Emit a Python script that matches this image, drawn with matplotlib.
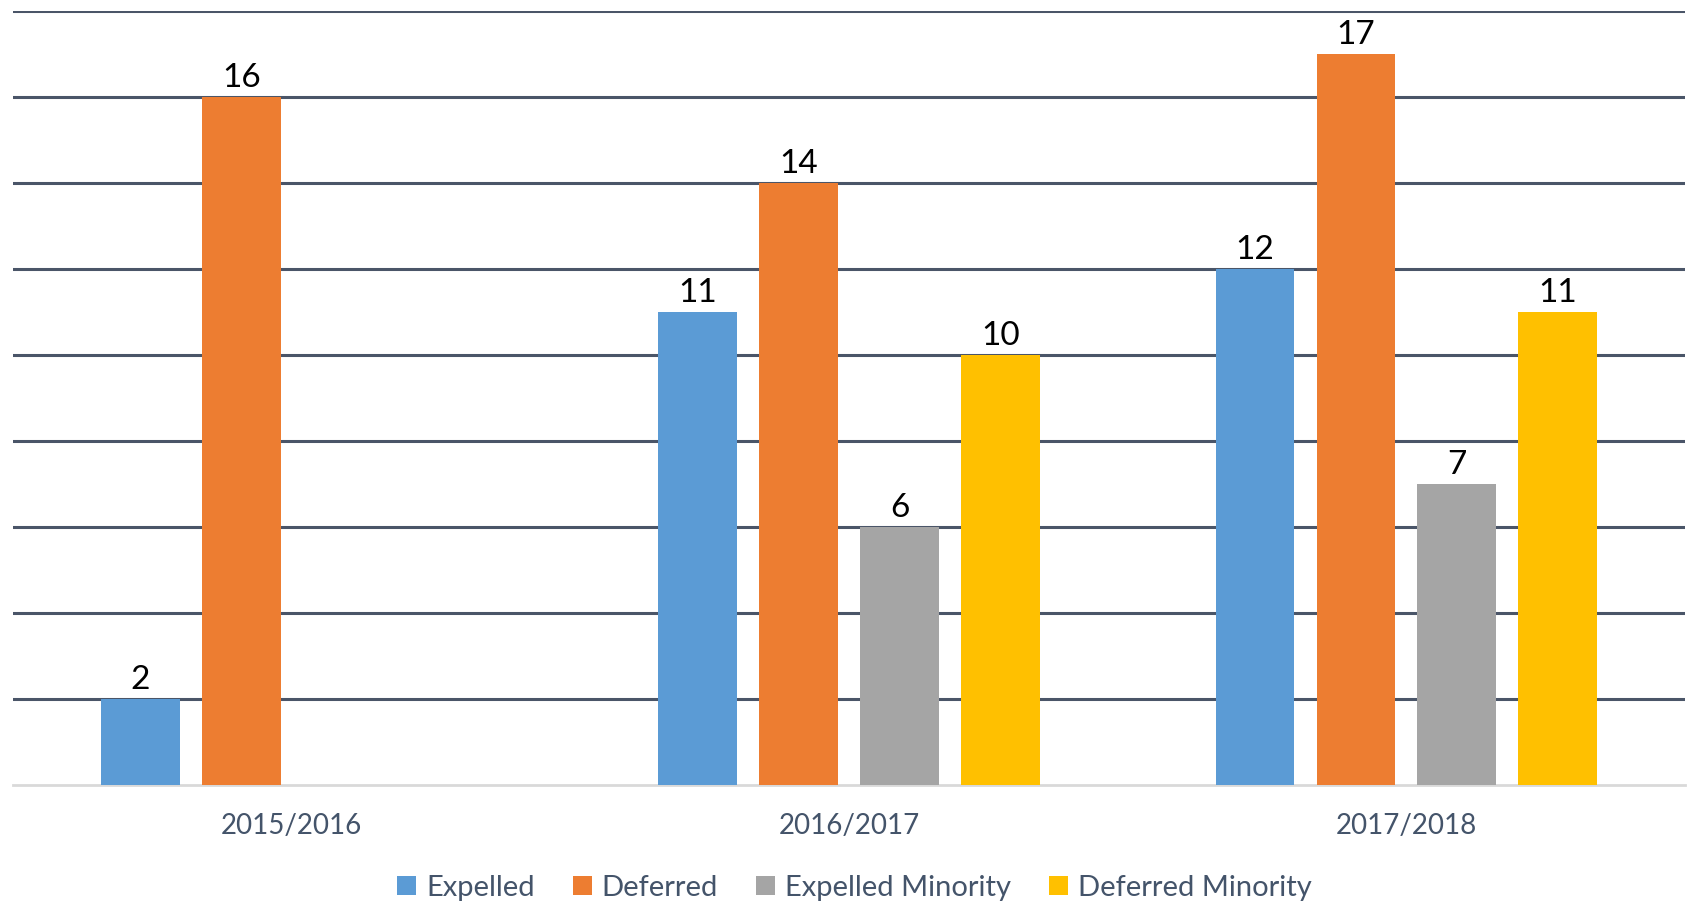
import matplotlib
matplotlib.use("Agg")
import matplotlib.pyplot as plt
import numpy as np

categories = ["2015/2016", "2016/2017", "2017/2018"]
series_names = ["Expelled", "Deferred", "Expelled Minority", "Deferred Minority"]
expelled = [2, 11, 12]
deferred = [16, 14, 17]
expelled_minority = [None, 6, 7]
deferred_minority = [None, 10, 11]
colors = ["#5B9BD5", "#ED7D31", "#A5A5A5", "#FFC000"]

plt.rcParams['font.family'] = ['Lato', 'DejaVu Sans']

fig = plt.figure(figsize=(16.91, 9.08), dpi=100)
ax = fig.add_axes([13/1691, 1 - 785/908, 1672/1691, (785 - 11)/908])

all_series = [expelled, deferred, expelled_minority, deferred_minority]
x = np.arange(len(categories))
slot = 0.181
width = 0.141
handles = []
for i, (name, vals, c) in enumerate(zip(series_names, all_series, colors)):
    offs = (i - 1.5) * slot
    xs = [xi + offs for xi, v in zip(x, vals) if v is not None]
    ys = [v for v in vals if v is not None]
    b = ax.bar(xs, ys, width=width, color=c, label=name, zorder=3)
    handles.append(b)
    for xx, yy in zip(xs, ys):
        ax.text(xx, yy + 0.1, str(yy), ha='center', va='bottom', fontsize=24, color='black', zorder=4)

ax.set_xlim(-0.5, 2.5)
ax.set_ylim(0, 18)
ax.set_yticks(np.arange(2, 19, 2))
ax.yaxis.grid(True, color='#4A5568', linewidth=2.2, zorder=0)
ax.set_axisbelow(True)
ax.tick_params(axis='y', left=False, labelleft=False)
ax.tick_params(axis='x', bottom=False, labelsize=20, labelcolor='#44546A', pad=17)
ax.set_xticks(x)
ax.set_xticklabels(categories)
for s in ['top', 'right', 'left']:
    ax.spines[s].set_visible(False)
ax.spines['bottom'].set_color('#D9D9D9')
ax.spines['bottom'].set_linewidth(2)

leg = fig.legend(handles=handles, labels=series_names, loc='center', bbox_to_anchor=(0.5053, 1 - 888/908),
                 ncol=4, frameon=False, fontsize=21, handlelength=0.65, handleheight=0.65,
                 handletextpad=0.35, columnspacing=1.3)
for t in leg.get_texts():
    t.set_color('#44546A')

fig.savefig("out.png", dpi=100)
